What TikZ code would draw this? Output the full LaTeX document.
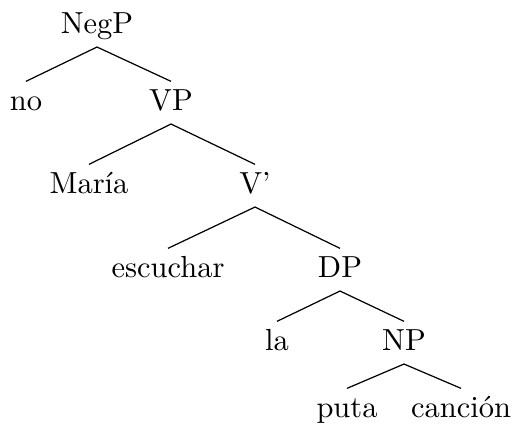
\documentclass[tikz,border=0pt]{standalone}
\usepackage{fontspec}
\begin{document}
\begin{tikzpicture}[x=0.328pt, y=-0.328pt,
    word/.style={anchor=base, text height=6.8pt, text depth=2pt, inner sep=2.4pt},
    branch/.style={line width=0.4pt}]
        \useasboundingbox (0,0) rectangle (514,425);

        % Nodes
        \node[word] (negp) at (97,33) {NegP};
        \node[word] (no) at (26,110) {no};
        \node[word] (vp) at (171,110) {VP};
        \node[word] (maria) at (89,193) {María};
        \node[word] (vbar) at (255,193) {V'};
        \node[word] (escuchar) at (168,277) {escuchar};
        \node[word] (dp) at (340,277) {DP};
        \node[word] (la) at (277,350) {la};
        \node[word] (np) at (404,350) {NP};
        \node[word] (puta) at (347,417) {puta};
        \node[word] (cancion) at (461,417) {canción};

        % Branches
        \draw[branch] (no.north) -- (negp.south) -- (vp.north);
        \draw[branch] (maria.north) -- (vp.south) -- (vbar.north);
        \draw[branch] (escuchar.north) -- (vbar.south) -- (dp.north);
        \draw[branch] (la.north) -- (dp.south) -- (np.north);
        \draw[branch] (puta.north) -- (np.south) -- (cancion.north);
\end{tikzpicture}
\end{document}
